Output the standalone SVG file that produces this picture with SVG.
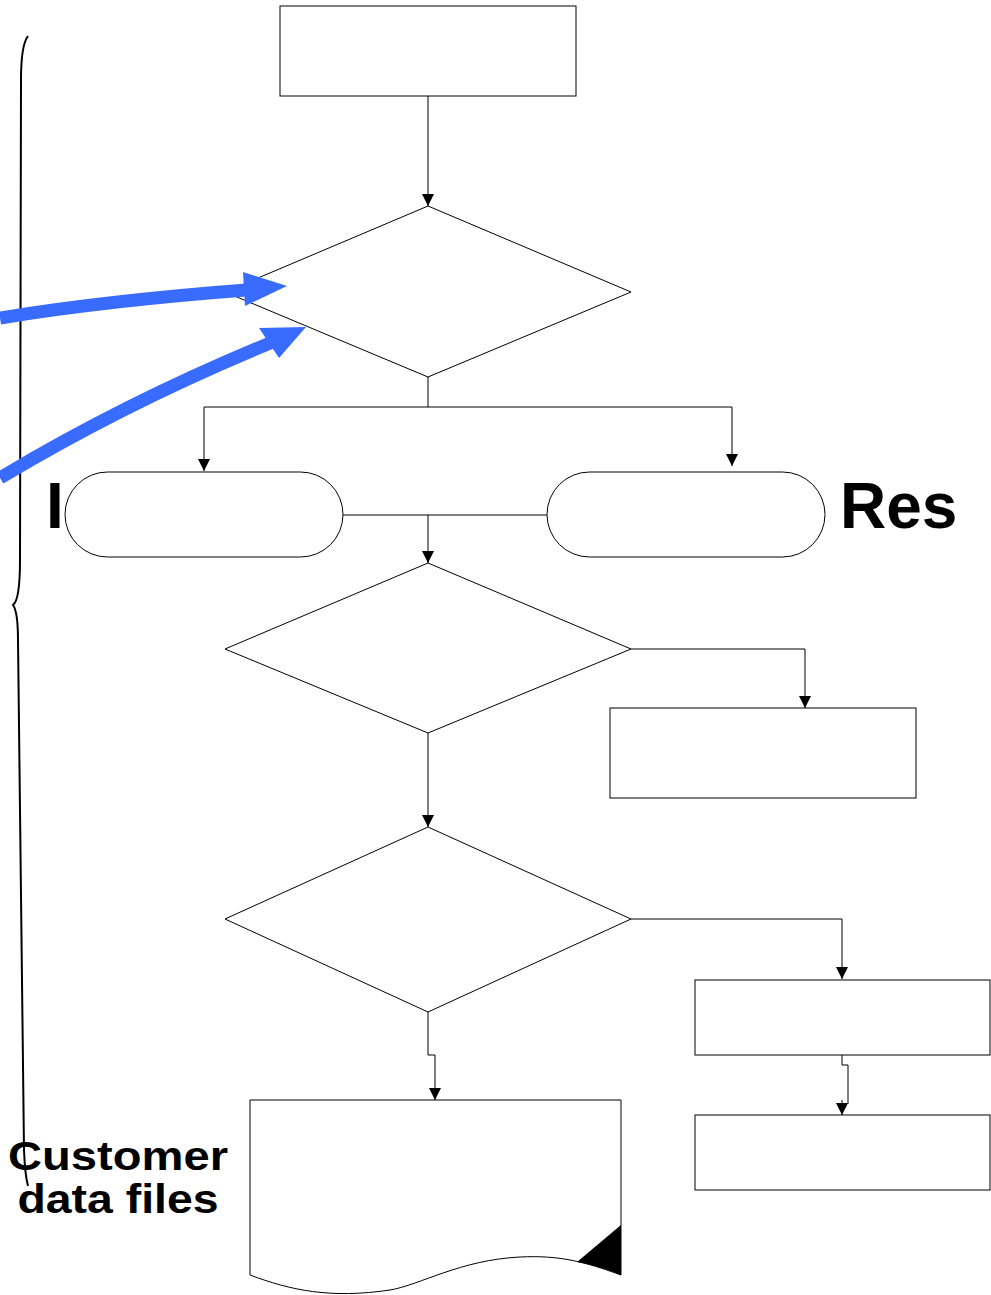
<svg xmlns="http://www.w3.org/2000/svg" width="991" height="1295" viewBox="0 0 991 1295">
<style>
.n{fill:#fff;stroke:#000;stroke-width:1}
.c{fill:none;stroke:#000;stroke-width:1}
.br{fill:none;stroke:#000;stroke-width:2}
.b{fill:none;stroke:#3A6BFF;stroke-width:13}
.t{font-family:"Liberation Sans",Arial,sans-serif;font-weight:bold;fill:#000}
</style>
<defs>
<marker id="ah" markerUnits="userSpaceOnUse" markerWidth="14" markerHeight="14" viewBox="0 0 14 14" refX="12" refY="7" orient="auto">
<path d="M0,1 L12,7 L0,13 Z" fill="#000"/>
</marker>
</defs>
<g id="labels">
<text class="t" x="46" y="528" font-size="64">I</text>
<text class="t" x="840" y="528" font-size="64">Res</text>
</g>
<g id="brace">
<path class="br" d="M28,36 Q21,45 21,80 L20,560 Q20,600 13,605 Q18,612 18,640 L24,1150 Q25,1175 28,1186"/>
</g>
<g id="connectors">
<line class="c" x1="428" y1="96" x2="428" y2="206" marker-end="url(#ah)"/>
<polyline class="c" points="428,377 428,407 204,407 204,471" marker-end="url(#ah)"/>
<polyline class="c" points="428,407 732,407 732,466" marker-end="url(#ah)"/>
<line class="c" x1="343" y1="515" x2="547" y2="515"/>
<line class="c" x1="428" y1="515" x2="428" y2="563" marker-end="url(#ah)"/>
<polyline class="c" points="631,649 805,649 805,708" marker-end="url(#ah)"/>
<line class="c" x1="428" y1="733" x2="428" y2="827" marker-end="url(#ah)"/>
<polyline class="c" points="631,919 842,919 842,979" marker-end="url(#ah)"/>
<polyline class="c" points="428,1012 428,1055 435,1055 435,1100" marker-end="url(#ah)"/>
<polyline class="c" points="842,1055 842,1065 848,1065 848,1104"/>
<line class="c" x1="842" y1="1100" x2="842" y2="1115" marker-end="url(#ah)"/>
</g>
<g id="start"><rect class="n" x="280" y="6" width="296" height="90"/></g>
<g id="decision1"><polygon class="n" points="428,206 631,292 428,377 225,292"/></g>
<g id="term-left"><rect class="n" x="65" y="472" width="278" height="85" rx="42.5" ry="42.5"/></g>
<g id="term-right"><rect class="n" x="547" y="472" width="278" height="85" rx="42.5" ry="42.5"/></g>
<g id="decision2"><polygon class="n" points="428,563 631,649 428,733 225,649"/></g>
<g id="box1"><rect class="n" x="610" y="708" width="306" height="90"/></g>
<g id="decision3"><polygon class="n" points="428,827 631,919 428,1012 225,919"/></g>
<g id="box2"><rect class="n" x="695" y="980" width="295" height="75"/></g>
<g id="box3"><rect class="n" x="695" y="1115" width="295" height="75"/></g>
<g id="document">
<path class="n" d="M250,1100 L621,1100 L621,1275 C585,1262 560,1255 520,1257 C460,1260 420,1285 390,1290 C330,1299 290,1290 250,1275 Z"/>
<path d="M621,1225 L577,1262 C595,1265 608,1270 621,1275 Z" fill="#000"/>
</g>
<g id="blue-arrows">
<path class="b" d="M0,318 Q110,300 260,289"/>
<path d="M287,286 L243,272 L245,306 Z" fill="#3A6BFF"/>
<path class="b" d="M0,478 Q130,400 280,339"/>
<path d="M306,327 L259,328 L279,358 Z" fill="#3A6BFF"/>
</g>
<g id="customer-label">
<text class="t" x="118" y="1170" font-size="40" text-anchor="middle" textLength="220" lengthAdjust="spacingAndGlyphs">Customer</text>
<text class="t" x="118" y="1213" font-size="40" text-anchor="middle" textLength="201" lengthAdjust="spacingAndGlyphs">data files</text>
</g>
</svg>
